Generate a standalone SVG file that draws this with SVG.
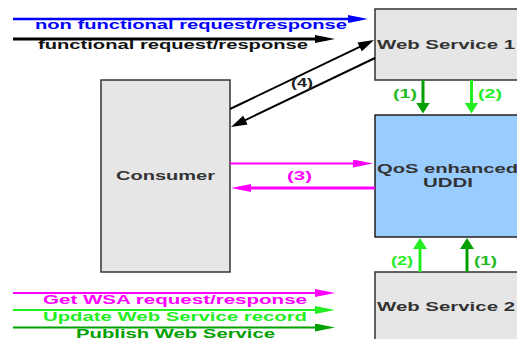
<svg xmlns="http://www.w3.org/2000/svg" width="517" height="339" viewBox="0 0 517 339">
<style>
text{font-family:"Liberation Sans",Arial,sans-serif;font-weight:bold;font-size:13px;}
.box{fill:#e6e6e6;stroke:#333;stroke-width:1.5;}
.qos{fill:#99ccff;stroke:#222;stroke-width:1.5;}
.lbl{fill:#333;}
.c{text-anchor:middle;}
</style>
<defs>
<marker id="aBlue" markerUnits="userSpaceOnUse" markerWidth="20" markerHeight="8" refX="12" refY="4" orient="auto"><path d="M0,0 L20,4 L0,8 z" fill="#0000ff"/></marker>
<marker id="aBlack" markerUnits="userSpaceOnUse" markerWidth="20" markerHeight="8" refX="12" refY="4" orient="auto"><path d="M0,0 L20,4 L0,8 z" fill="#000"/></marker>
<marker id="aBlack2" markerUnits="userSpaceOnUse" markerWidth="16" markerHeight="10" refX="10" refY="5" orient="auto"><path d="M0,0 L16,5 L0,10 z" fill="#000"/></marker>
<marker id="aMag" markerUnits="userSpaceOnUse" markerWidth="20" markerHeight="8" refX="12" refY="4" orient="auto"><path d="M0,0 L20,4 L0,8 z" fill="#ff00ff"/></marker>
<marker id="aBright" markerUnits="userSpaceOnUse" markerWidth="20" markerHeight="8" refX="12" refY="4" orient="auto"><path d="M0,0 L20,4 L0,8 z" fill="#22ee22"/></marker>
<marker id="aDark" markerUnits="userSpaceOnUse" markerWidth="20" markerHeight="8" refX="12" refY="4" orient="auto"><path d="M0,0 L20,4 L0,8 z" fill="#00a000"/></marker>
<marker id="gBright" markerUnits="userSpaceOnUse" markerWidth="11" markerHeight="14" refX="6" refY="7" orient="auto"><path d="M0,0 L11,7 L0,14 z" fill="#22ee22"/></marker>
<marker id="gDark" markerUnits="userSpaceOnUse" markerWidth="11" markerHeight="14" refX="6" refY="7" orient="auto"><path d="M0,0 L11,7 L0,14 z" fill="#00a000"/></marker>
</defs>
<rect width="517" height="339" fill="#fff"/>

<g id="legend">
<line x1="13" y1="19" x2="360" y2="19" stroke="#0000ff" stroke-width="2.5" marker-end="url(#aBlue)"/>
<text x="191" y="29" class="c" fill="#0000ff" textLength="312" lengthAdjust="spacingAndGlyphs">non functional request/response</text>
<line x1="13" y1="39" x2="327" y2="39" stroke="#000" stroke-width="3" marker-end="url(#aBlack)"/>
<text x="173" y="49" class="c" fill="#111" textLength="270" lengthAdjust="spacingAndGlyphs">functional request/response</text>
<line x1="13" y1="293" x2="327" y2="293" stroke="#ff00ff" stroke-width="2" marker-end="url(#aMag)"/>
<text x="175" y="303.5" class="c" fill="#ff00ff" textLength="264" lengthAdjust="spacingAndGlyphs">Get WSA request/response</text>
<line x1="13" y1="310" x2="327" y2="310" stroke="#22ee22" stroke-width="2" marker-end="url(#aBright)"/>
<text x="175" y="320.5" class="c" fill="#22ee22" textLength="264" lengthAdjust="spacingAndGlyphs">Update Web Service record</text>
<line x1="13" y1="327.5" x2="327" y2="327.5" stroke="#00a000" stroke-width="2" marker-end="url(#aDark)"/>
<text x="175.5" y="337.5" class="c" fill="#00a000" textLength="199" lengthAdjust="spacingAndGlyphs">Publish Web Service</text>
</g>

<g id="ws1">
<rect class="box" x="375" y="9" width="150" height="71"/>
<text class="lbl" x="377" y="49" textLength="138" lengthAdjust="spacingAndGlyphs">Web Service 1</text>
</g>
<g id="consumer">
<rect class="box" x="101" y="80" width="129" height="192"/>
<text class="lbl c" x="165.5" y="180" textLength="99" lengthAdjust="spacingAndGlyphs">Consumer</text>
</g>
<g id="uddi">
<rect class="qos" x="375" y="115" width="150" height="122"/>
<text class="lbl" x="377" y="173" textLength="141" lengthAdjust="spacingAndGlyphs">QoS enhanced</text>
<text class="lbl" x="423" y="187" textLength="50" lengthAdjust="spacingAndGlyphs">UDDI</text>
</g>
<g id="ws2">
<rect class="box" x="375" y="272" width="150" height="80"/>
<text class="lbl" x="377" y="311" textLength="138" lengthAdjust="spacingAndGlyphs">Web Service 2</text>
</g>

<g id="connectors">
<line x1="230" y1="109" x2="368.6" y2="42.6" stroke="#000" stroke-width="2" marker-end="url(#aBlack2)"/>
<line x1="375" y1="58" x2="236.4" y2="124.4" stroke="#000" stroke-width="2" marker-end="url(#aBlack2)"/>
<text class="c" x="302" y="87" fill="#222" textLength="22" lengthAdjust="spacingAndGlyphs">(4)</text>

<line x1="230" y1="163.5" x2="365" y2="163.5" stroke="#ff00ff" stroke-width="2" marker-end="url(#aMag)"/>
<line x1="375" y1="188" x2="239" y2="188" stroke="#ff00ff" stroke-width="3" marker-end="url(#aMag)"/>
<text class="c" x="299.5" y="180" fill="#ff00ff" textLength="25" lengthAdjust="spacingAndGlyphs">(3)</text>

<line x1="423" y1="80" x2="423" y2="108.5" stroke="#00a000" stroke-width="3" marker-end="url(#gDark)"/>
<line x1="471.5" y1="80" x2="471.5" y2="108.5" stroke="#22ee22" stroke-width="3" marker-end="url(#gBright)"/>
<text class="c" x="405" y="98" fill="#22bb22" textLength="24" lengthAdjust="spacingAndGlyphs">(1)</text>
<text class="c" x="490" y="98" fill="#22ee22" textLength="24" lengthAdjust="spacingAndGlyphs">(2)</text>

<line x1="420" y1="272" x2="420" y2="243" stroke="#22ee22" stroke-width="3" marker-end="url(#gBright)"/>
<line x1="467" y1="272" x2="467" y2="243" stroke="#00a000" stroke-width="3" marker-end="url(#gDark)"/>
<text class="c" x="402" y="265" fill="#22ee22" textLength="22" lengthAdjust="spacingAndGlyphs">(2)</text>
<text class="c" x="485.5" y="265" fill="#22bb22" textLength="23" lengthAdjust="spacingAndGlyphs">(1)</text>
</g>
</svg>
